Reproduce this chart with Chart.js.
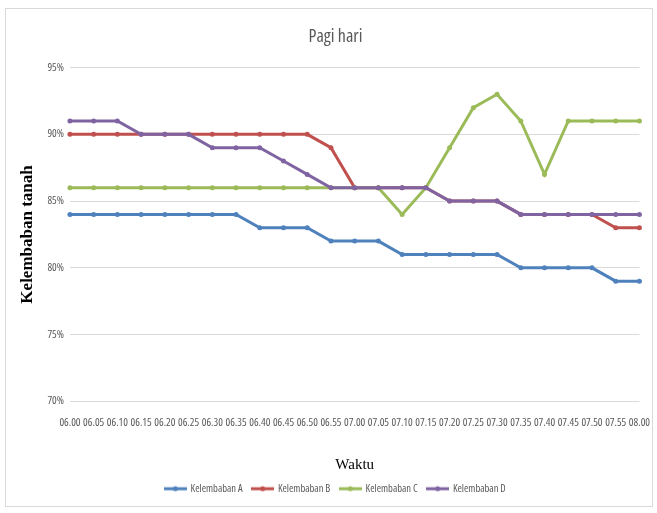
<!DOCTYPE html>
<html>
<head>
<meta charset="utf-8">
<script src="https://cdn.jsdelivr.net/npm/chart.js@4"></script>
<style>
    body { margin: 0; background: #fff; }
    #wrap { position: relative; width: 657px; height: 513px; }
    #frame { position: absolute; left: 5px; top: 8px; width: 646px; height: 497px; border: 1px solid #d9d9d9; pointer-events: none; }
</style>
</head>
<body>
<div id="wrap">
    <canvas id="line" width="657" height="513"></canvas>
    <div id="frame"></div>
</div>
<script>
// kelembaban tanah tiap 5 menit (%)
const waktu = ['06.00', '06.05', '06.10', '06.15', '06.20', '06.25', '06.30', '06.35', '06.40', '06.45', '06.50', '06.55',
    '07.00', '07.05', '07.10', '07.15', '07.20', '07.25', '07.30', '07.35', '07.40', '07.45', '07.50', '07.55', '08.00'];

const kelembabanA = [84, 84, 84, 84, 84, 84, 84, 84, 83, 83, 83, 82, 82, 82, 81, 81, 81, 81, 81, 80, 80, 80, 80, 79, 79];
const kelembabanB = [90, 90, 90, 90, 90, 90, 90, 90, 90, 90, 90, 89, 86, 86, 86, 86, 85, 85, 85, 84, 84, 84, 84, 83, 83];
const kelembabanC = [86, 86, 86, 86, 86, 86, 86, 86, 86, 86, 86, 86, 86, 86, 84, 86, 89, 92, 93, 91, 87, 91, 91, 91, 91];
const kelembabanD = [91, 91, 91, 90, 90, 90, 89, 89, 89, 88, 87, 86, 86, 86, 86, 86, 85, 85, 85, 84, 84, 84, 84, 84, 84];

const yTicks = [70, 75, 80, 85, 90, 95];

const sans = "'Open Sans', sans-serif";
const serif = "'Liberation Serif', 'Times New Roman', serif";
// narrow labels: condensed width of Open Sans
const condensed = '400 condensed';

// legend symbol: short line with a dot
function legendMark(color) {
    const c = document.createElement('canvas');
    c.width = 23; c.height = 8;
    const ctx = c.getContext('2d');
    ctx.strokeStyle = color;
    ctx.lineWidth = 3;
    ctx.beginPath();
    ctx.moveTo(0, 4); ctx.lineTo(23, 4);
    ctx.stroke();
    ctx.fillStyle = color;
    ctx.beginPath();
    ctx.arc(11.5, 4, 2.5, 0, Math.PI * 2);
    ctx.fill();
    return c;
}

function series(label, data, color, order) {
    return {
        label: label,
        data: data,
        borderColor: color,
        backgroundColor: color,
        borderWidth: 3,
        pointStyle: 'circle',
        pointRadius: 2.5,
        pointBorderWidth: 0,
        pointBackgroundColor: color,
        tension: 0,
        order: order,
    };
}

const Line = document.getElementById("line").getContext("2d");
const myLineChart = new Chart(Line, {
    type: "line",
    data: {
        labels: waktu,
        datasets: [
            series('Kelembaban A', kelembabanA, '#4f81bd', 3),
            series('Kelembaban B', kelembabanB, '#c0504d', 2),
            series('Kelembaban C', kelembabanC, '#9bbb59', 1),
            series('Kelembaban D', kelembabanD, '#8064a2', 0),
        ],
    },
    options: {
        responsive: false,
        animation: false,
        layout: {
            padding: { left: 17, right: 3, top: 0, bottom: 9 },
        },
        plugins: {
            title: {
                display: true,
                text: 'Pagi hari',
                color: '#595959',
                font: { family: sans, size: 18, weight: condensed },
                padding: { top: 26, bottom: 20 },
            },
            legend: {
                position: 'bottom',
                labels: {
                    usePointStyle: true,
                    pointStyleWidth: 20,
                    boxHeight: 8,
                    color: '#595959',
                    font: { family: sans, size: 10.5, weight: condensed },
                    padding: 10,
                    generateLabels: (chart) => chart.data.datasets.map((ds, i) => ({
                        text: ds.label,
                        fillStyle: ds.borderColor,
                        strokeStyle: ds.borderColor,
                        fontColor: '#595959',
                        pointStyle: legendMark(ds.borderColor),
                        lineWidth: 0,
                        datasetIndex: i,
                        hidden: false,
                    })),
                },
            },
            tooltip: { enabled: false },
        },
        scales: {
            x: {
                grid: {
                    display: false,
                },
                border: { display: false },
                ticks: {
                    color: '#595959',
                    font: { family: sans, size: 11, weight: condensed },
                    maxRotation: 0,
                    autoSkip: false,
                    padding: 7,
                },
                title: {
                    display: true,
                    text: 'Waktu',
                    color: '#000',
                    font: { family: serif, size: 15 },
                    padding: { top: 16, bottom: -1 },
                },
                afterFit: (scale) => {
                    scale.height += 4;
                },
            },
            y: {
                min: yTicks[0],
                max: yTicks[yTicks.length - 1],
                afterBuildTicks: (scale) => {
                    scale.ticks = yTicks.map((v) => ({ value: v }));
                },
                grid: {
                    color: '#d9d9d9',
                    drawTicks: false,
                },
                border: { display: false },
                ticks: {
                    color: '#595959',
                    font: { family: sans, size: 11, weight: condensed },
                    padding: 6,
                    callback: (v) => v + '%',
                },
                title: {
                    display: true,
                    text: 'Kelembaban tanah',
                    color: '#000',
                    font: { family: serif, size: 17, weight: 'bold' },
                    padding: { top: 0, bottom: 4 },
                },
            },
        },
    }
});
</script>
</body>
</html>
